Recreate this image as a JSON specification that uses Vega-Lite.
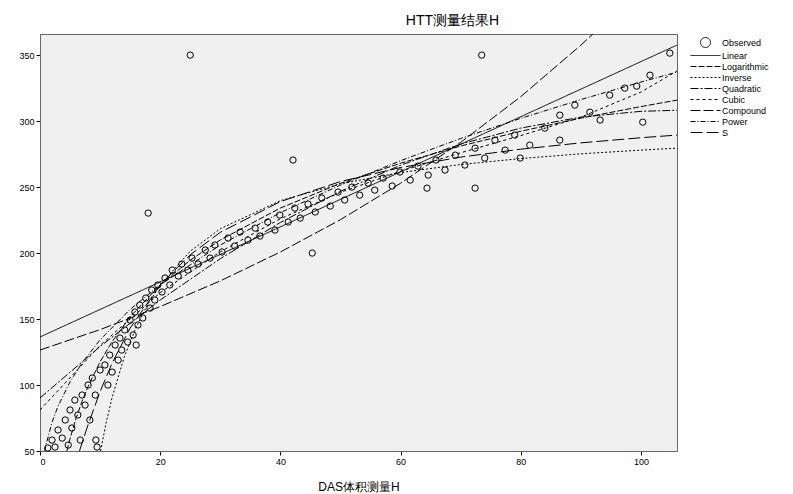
{
  "$schema": "https://vega.github.io/schema/vega-lite/v6.json",
  "width": 637,
  "height": 417,
  "autosize": "none",
  "padding": {"left": 40, "top": 34, "right": 116, "bottom": 43},
  "background": "white",
  "title": {"text": "HTT测量结果H", "fontSize": 14, "font": "Liberation Sans", "fontWeight": "normal", "color": "black", "dx": 94, "offset": 6},
  "config": {
    "view": {"fill": "#f0f0f0", "stroke": "#666666"},
    "axis": {"labelFont": "Liberation Sans", "labelFontSize": 9, "labelColor": "black", "tickColor": "black", "tickSize": 4, "domainColor": "#666666", "grid": false, "titleFont": "Liberation Sans", "titleFontSize": 12, "titleFontWeight": "normal", "titleColor": "black"},
    "legend": {"labelFont": "Liberation Sans", "labelFontSize": 9, "labelColor": "black"}
  },
  "data": {"values": [
    {"m":"Observed","x":1.3,"y":52.3},{"m":"Observed","x":2.0,"y":58.3},{"m":"Observed","x":2.5,"y":53.0},{"m":"Observed","x":3.0,"y":65.9},{"m":"Observed","x":3.7,"y":59.8},{"m":"Observed","x":4.2,"y":73.5},{"m":"Observed","x":4.7,"y":54.5},{"m":"Observed","x":5.0,"y":81.1},{"m":"Observed","x":5.3,"y":67.4},{"m":"Observed","x":5.8,"y":88.6},{"m":"Observed","x":6.3,"y":77.3},{"m":"Observed","x":6.7,"y":58.3},{"m":"Observed","x":7.0,"y":92.4},{"m":"Observed","x":7.5,"y":84.8},{"m":"Observed","x":8.0,"y":100.0},{"m":"Observed","x":8.3,"y":73.5},{"m":"Observed","x":8.7,"y":105.3},{"m":"Observed","x":9.2,"y":92.4},{"m":"Observed","x":9.5,"y":53.0},{"m":"Observed","x":10.0,"y":111.4},{"m":"Observed","x":9.3,"y":58.3},{"m":"Observed","x":10.8,"y":115.2},{"m":"Observed","x":11.3,"y":100.0},{"m":"Observed","x":11.6,"y":122.7},{"m":"Observed","x":12.0,"y":109.8},{"m":"Observed","x":12.5,"y":130.3},{"m":"Observed","x":13.0,"y":118.9},{"m":"Observed","x":13.3,"y":135.6},{"m":"Observed","x":13.6,"y":126.5},{"m":"Observed","x":14.1,"y":141.7},{"m":"Observed","x":14.6,"y":132.6},{"m":"Observed","x":15.0,"y":149.2},{"m":"Observed","x":15.5,"y":137.9},{"m":"Observed","x":15.8,"y":155.3},{"m":"Observed","x":16.3,"y":145.5},{"m":"Observed","x":16.6,"y":160.6},{"m":"Observed","x":17.1,"y":150.8},{"m":"Observed","x":17.6,"y":165.9},{"m":"Observed","x":18.3,"y":158.3},{"m":"Observed","x":18.6,"y":172.0},{"m":"Observed","x":19.1,"y":164.4},{"m":"Observed","x":19.6,"y":175.8},{"m":"Observed","x":20.3,"y":170.5},{"m":"Observed","x":20.8,"y":181.1},{"m":"Observed","x":21.6,"y":175.8},{"m":"Observed","x":22.0,"y":187.1},{"m":"Observed","x":23.0,"y":182.6},{"m":"Observed","x":23.6,"y":191.7},{"m":"Observed","x":24.6,"y":187.1},{"m":"Observed","x":25.3,"y":196.2},{"m":"Observed","x":26.3,"y":191.7},{"m":"Observed","x":27.5,"y":202.3},{"m":"Observed","x":28.3,"y":196.2},{"m":"Observed","x":29.1,"y":206.1},{"m":"Observed","x":30.3,"y":200.8},{"m":"Observed","x":31.3,"y":211.4},{"m":"Observed","x":32.4,"y":205.3},{"m":"Observed","x":33.3,"y":215.9},{"m":"Observed","x":34.6,"y":209.8},{"m":"Observed","x":35.8,"y":218.9},{"m":"Observed","x":36.6,"y":212.9},{"m":"Observed","x":37.9,"y":223.5},{"m":"Observed","x":39.1,"y":217.4},{"m":"Observed","x":39.9,"y":228.8},{"m":"Observed","x":41.3,"y":223.5},{"m":"Observed","x":42.4,"y":234.1},{"m":"Observed","x":43.3,"y":226.5},{"m":"Observed","x":44.6,"y":237.1},{"m":"Observed","x":45.8,"y":231.1},{"m":"Observed","x":46.9,"y":241.7},{"m":"Observed","x":48.3,"y":235.6},{"m":"Observed","x":49.6,"y":246.2},{"m":"Observed","x":50.7,"y":240.2},{"m":"Observed","x":51.9,"y":250.0},{"m":"Observed","x":53.2,"y":243.9},{"m":"Observed","x":54.6,"y":253.0},{"m":"Observed","x":55.7,"y":247.7},{"m":"Observed","x":57.1,"y":256.8},{"m":"Observed","x":58.6,"y":250.8},{"m":"Observed","x":59.9,"y":261.4},{"m":"Observed","x":61.6,"y":255.3},{"m":"Observed","x":62.9,"y":265.9},{"m":"Observed","x":64.6,"y":259.1},{"m":"Observed","x":65.9,"y":270.5},{"m":"Observed","x":67.4,"y":262.9},{"m":"Observed","x":69.1,"y":274.2},{"m":"Observed","x":70.7,"y":266.7},{"m":"Observed","x":72.4,"y":279.5},{"m":"Observed","x":74.0,"y":272.0},{"m":"Observed","x":75.7,"y":285.6},{"m":"Observed","x":77.4,"y":278.0},{"m":"Observed","x":79.0,"y":289.4},{"m":"Observed","x":81.5,"y":281.8},{"m":"Observed","x":84.0,"y":294.7},{"m":"Observed","x":86.5,"y":304.5},{"m":"Observed","x":89.0,"y":312.1},{"m":"Observed","x":91.5,"y":306.8},{"m":"Observed","x":94.8,"y":319.7},{"m":"Observed","x":97.3,"y":325.0},{"m":"Observed","x":99.3,"y":326.5},{"m":"Observed","x":101.5,"y":334.8},{"m":"Observed","x":104.8,"y":351.5},{"m":"Observed","x":93.2,"y":300.8},{"m":"Observed","x":86.5,"y":285.6},{"m":"Observed","x":79.9,"y":272.0},
    {"m":"Observed","x":25.0,"y":350.0},{"m":"Observed","x":18.0,"y":230.3},{"m":"Observed","x":42.1,"y":270.5},{"m":"Observed","x":45.3,"y":200.0},{"m":"Observed","x":16.0,"y":130.3},{"m":"Observed","x":64.4,"y":249.2},{"m":"Observed","x":72.4,"y":249.2},{"m":"Observed","x":73.5,"y":350.0},{"m":"Observed","x":100.3,"y":299.2},
    {"m":"Linear","x":0,"y":136.4},{"m":"Linear","x":50,"y":240.7},{"m":"Linear","x":106,"y":357.6},
    {"m":"Logarithmic","x":4.47,"y":50.0},{"m":"Logarithmic","x":5,"y":59.4},{"m":"Logarithmic","x":6,"y":74.7},{"m":"Logarithmic","x":7,"y":87.7},{"m":"Logarithmic","x":8,"y":98.9},{"m":"Logarithmic","x":10,"y":117.6},{"m":"Logarithmic","x":12,"y":132.9},{"m":"Logarithmic","x":15,"y":151.7},{"m":"Logarithmic","x":20,"y":175.9},{"m":"Logarithmic","x":25,"y":194.6},{"m":"Logarithmic","x":30,"y":209.9},{"m":"Logarithmic","x":40,"y":234.1},{"m":"Logarithmic","x":50,"y":252.8},{"m":"Logarithmic","x":60,"y":268.1},{"m":"Logarithmic","x":70,"y":281.1},{"m":"Logarithmic","x":80,"y":292.3},{"m":"Logarithmic","x":90,"y":302.2},{"m":"Logarithmic","x":100,"y":311.0},{"m":"Logarithmic","x":106,"y":315.9},
    {"m":"Inverse","x":10.08,"y":50.0},{"m":"Inverse","x":11,"y":71.2},{"m":"Inverse","x":12,"y":90.6},{"m":"Inverse","x":14,"y":121.0},{"m":"Inverse","x":16,"y":143.8},{"m":"Inverse","x":18,"y":161.6},{"m":"Inverse","x":20,"y":175.8},{"m":"Inverse","x":25,"y":201.4},{"m":"Inverse","x":30,"y":218.4},{"m":"Inverse","x":40,"y":239.7},{"m":"Inverse","x":50,"y":252.5},{"m":"Inverse","x":60,"y":261.0},{"m":"Inverse","x":70,"y":267.1},{"m":"Inverse","x":80,"y":271.6},{"m":"Inverse","x":90,"y":275.2},{"m":"Inverse","x":100,"y":278.0},{"m":"Inverse","x":106,"y":279.5},
    {"m":"Quadratic","x":0,"y":90.2},{"m":"Quadratic","x":10,"y":129.2},{"m":"Quadratic","x":20,"y":164.4},{"m":"Quadratic","x":30,"y":195.7},{"m":"Quadratic","x":40,"y":223.2},{"m":"Quadratic","x":50,"y":246.8},{"m":"Quadratic","x":60,"y":266.6},{"m":"Quadratic","x":70,"y":282.6},{"m":"Quadratic","x":80,"y":294.7},{"m":"Quadratic","x":90,"y":303.0},{"m":"Quadratic","x":100,"y":307.4},{"m":"Quadratic","x":106,"y":308.2},
    {"m":"Cubic","x":0,"y":81.1},{"m":"Cubic","x":10,"y":130.0},{"m":"Cubic","x":20,"y":170.0},{"m":"Cubic","x":30,"y":201.0},{"m":"Cubic","x":40,"y":226.0},{"m":"Cubic","x":50,"y":246.0},{"m":"Cubic","x":60,"y":262.0},{"m":"Cubic","x":70,"y":276.0},{"m":"Cubic","x":80,"y":289.0},{"m":"Cubic","x":90,"y":303.0},{"m":"Cubic","x":100,"y":322.0},{"m":"Cubic","x":106,"y":338.0},
    {"m":"Compound","x":0,"y":126.5},{"m":"Compound","x":10,"y":142.0},{"m":"Compound","x":20,"y":159.4},{"m":"Compound","x":30,"y":178.9},{"m":"Compound","x":40,"y":200.8},{"m":"Compound","x":50,"y":225.3},{"m":"Compound","x":60,"y":252.9},{"m":"Compound","x":70,"y":283.9},{"m":"Compound","x":80,"y":318.5},{"m":"Compound","x":90,"y":357.5},{"m":"Compound","x":94,"y":374.5},
    {"m":"Power","x":0.79,"y":49.9},{"m":"Power","x":1,"y":54.7},{"m":"Power","x":2,"y":71.7},{"m":"Power","x":3,"y":84.0},{"m":"Power","x":5,"y":102.5},{"m":"Power","x":7,"y":116.8},{"m":"Power","x":10,"y":134.3},{"m":"Power","x":15,"y":157.3},{"m":"Power","x":20,"y":175.9},{"m":"Power","x":30,"y":206.1},{"m":"Power","x":40,"y":230.6},{"m":"Power","x":50,"y":251.5},{"m":"Power","x":60,"y":270.0},{"m":"Power","x":70,"y":286.8},{"m":"Power","x":80,"y":302.1},{"m":"Power","x":90,"y":316.3},{"m":"Power","x":100,"y":329.6},{"m":"Power","x":106,"y":337.1},
    {"m":"S","x":6.57,"y":50.0},{"m":"S","x":7,"y":56.1},{"m":"S","x":8,"y":69.9},{"m":"S","x":10,"y":95.0},{"m":"S","x":12,"y":116.6},{"m":"S","x":15,"y":143.2},{"m":"S","x":20,"y":175.8},{"m":"S","x":25,"y":198.7},{"m":"S","x":30,"y":215.7},{"m":"S","x":40,"y":239.0},{"m":"S","x":50,"y":254.2},{"m":"S","x":60,"y":264.8},{"m":"S","x":70,"y":272.7},{"m":"S","x":80,"y":278.7},{"m":"S","x":90,"y":283.5},{"m":"S","x":100,"y":287.4},{"m":"S","x":106,"y":289.4}
  ]},
  "encoding": {
    "x": {"field": "x", "type": "quantitative", "scale": {"domain": [0, 106], "nice": false, "zero": false}, "axis": {"values": [0, 20, 40, 60, 80, 100], "title": "DAS体积测量H", "titlePadding": 15}},
    "y": {"field": "y", "type": "quantitative", "scale": {"domain": [50, 366], "nice": false, "zero": false}, "axis": {"values": [50, 100, 150, 200, 250, 300, 350], "title": null}}
  },
  "layer": [
    {
      "transform": [{"filter": "datum.m == 'Observed'"}],
      "mark": {"type": "point", "filled": false, "size": 40, "color": "black", "strokeWidth": 1, "opacity": 1},
      "encoding": {
        "shape": {"field": "m", "type": "nominal",
          "scale": {"domain": ["Observed","Linear","Logarithmic","Inverse","Quadratic","Cubic","Compound","Power","S"],
                    "range": ["circle","M-3,0H3","M-3,0H3","M-3,0H3","M-3,0H3","M-3,0H3","M-3,0H3","M-3,0H3","M-3,0H3"]},
          "legend": {"title": null, "orient": "none", "legendX": 660, "legendY": 3, "symbolSize": 100, "rowPadding": 0, "labelOffset": 11, "symbolStrokeColor": "black", "symbolFillColor": "transparent", "symbolStrokeWidth": 1}}
      }
    },
    {
      "transform": [{"filter": "datum.m != 'Observed'"}],
      "mark": {"type": "line", "color": "black", "strokeWidth": 1, "clip": true},
      "encoding": {
        "strokeDash": {"field": "m", "type": "nominal",
          "scale": {"domain": ["Observed","Linear","Logarithmic","Inverse","Quadratic","Cubic","Compound","Power","S"],
                    "range": [[1,0],[1,0],[6,2],[2,2],[8,2,2,2],[3,3],[10,3],[5,2,1,2],[12,4]]},
          "legend": {"title": null, "orient": "none", "legendX": 660, "legendY": 3, "symbolSize": 100, "rowPadding": 0, "labelOffset": 11}}
      }
    }
  ]
}
